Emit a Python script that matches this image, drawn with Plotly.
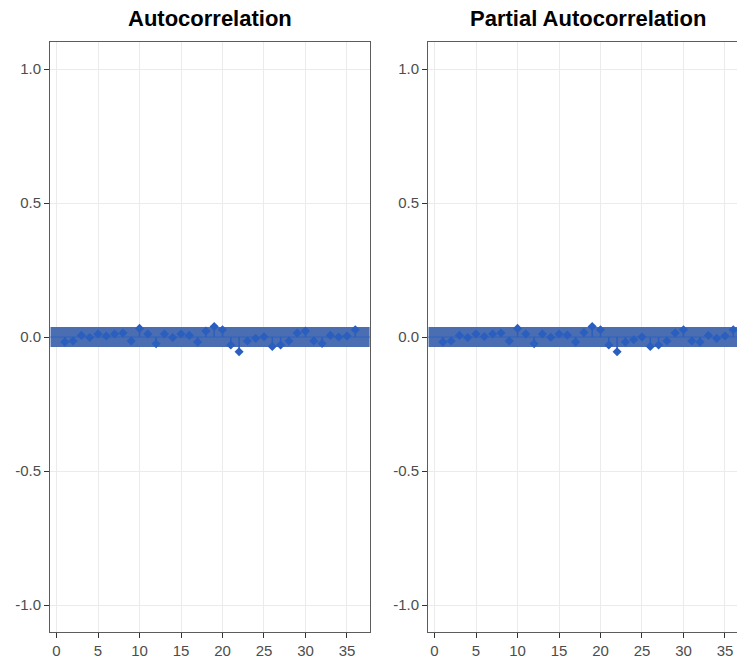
import plotly.graph_objects as go

lags = list(range(1, 37))
acf_vals = [-0.019, -0.015, 0.006, -0.002, 0.011, 0.004, 0.011, 0.015, -0.015, 0.032,
            0.011, -0.025, 0.011, -0.002, 0.011, 0.006, -0.019, 0.022, 0.039, 0.027,
            -0.030, -0.055, -0.015, -0.005, 0.001, -0.035, -0.030, -0.015, 0.015, 0.022,
            -0.015, -0.024, 0.006, 0.000, 0.004, 0.027]
pacf_vals = [-0.019, -0.015, 0.006, -0.002, 0.011, 0.002, 0.011, 0.015, -0.015, 0.032,
             0.011, -0.025, 0.011, -0.001, 0.011, 0.007, -0.019, 0.017, 0.039, 0.027,
             -0.030, -0.055, -0.019, -0.010, 0.000, -0.035, -0.030, -0.015, 0.015, 0.027,
             -0.015, -0.019, 0.006, -0.005, 0.004, 0.027]
ci = 0.037
titles = ["Autocorrelation", "Partial Autocorrelation"]
x_ticks = [0, 5, 10, 15, 20, 25, 30, 35]
y_ticks = [-1.0, -0.5, 0.0, 0.5, 1.0]
y_tick_text = ["-1.0", "-0.5", "0.0", "0.5", "1.0"]

W, H = 737, 661
XMIN, XMAX = -0.75, 37.75
px_per_unit = 319.5 / (XMAX - XMIN)
left_dom = [50.3 / W, 369.8 / W]
right_left_px = 428.3
right_xmax = XMIN + (W - right_left_px) / px_per_unit
y_dom = [1 - 631.8 / H, 1 - 42.2 / H]

BAND = "#4a6eb1"
LINE = "#2d63c2"
MARK = "#2a5fbf"
AXC = "#5c5c5c"
GRID = "#ebebeb"

fig = go.Figure()

def add_panel(vals, xa, ya, xmax):
    # confidence band
    fig.add_trace(go.Scatter(x=[XMIN, xmax, xmax, XMIN, XMIN], y=[ci, ci, -ci, -ci, ci],
                             fill="toself", fillcolor=BAND, mode="none",
                             xaxis=xa, yaxis=ya, hoverinfo="skip", showlegend=False))
    # zero line
    fig.add_trace(go.Scatter(x=[XMIN, xmax], y=[0, 0], mode="lines",
                             line=dict(color=LINE, width=1.2),
                             xaxis=xa, yaxis=ya, hoverinfo="skip", showlegend=False))
    sx, sy = [], []
    for l, v in zip(lags, vals):
        sx += [l, l, None]
        sy += [0, v, None]
    fig.add_trace(go.Scatter(x=sx, y=sy, mode="lines", line=dict(color=MARK, width=1.5),
                             xaxis=xa, yaxis=ya, hoverinfo="skip", showlegend=False))
    fig.add_trace(go.Scatter(x=lags, y=vals, mode="markers",
                             marker=dict(symbol="diamond", size=7, color=MARK),
                             xaxis=xa, yaxis=ya, showlegend=False))

add_panel(acf_vals, "x", "y", XMAX)
add_panel(pacf_vals, "x2", "y2", right_xmax)

tickfont = dict(family="Liberation Sans, Arial", size=15, color="#4d4d4d")
common_x = dict(tickvals=x_ticks, ticks="outside", ticklen=5, tickcolor="#333333", tickwidth=1,
                showline=True, linecolor=AXC, linewidth=1.4, showgrid=True, gridcolor=GRID,
                gridwidth=1, zeroline=False, tickfont=tickfont, mirror=True)
common_y = dict(tickvals=y_ticks, ticktext=y_tick_text, range=[-1.1, 1.1], ticks="outside",
                ticklen=5, tickcolor="#333333", tickwidth=1, showline=True, linecolor=AXC,
                linewidth=1.4, showgrid=True, gridcolor=GRID, gridwidth=1, zeroline=False,
                tickfont=tickfont, domain=y_dom)

fig.update_layout(
    width=W, height=H, margin=dict(l=0, r=0, t=0, b=0),
    plot_bgcolor="white", paper_bgcolor="white",
    xaxis=dict(domain=left_dom, range=[XMIN, XMAX], anchor="y", **common_x),
    yaxis=dict(anchor="x", mirror=True, **common_y),
    xaxis2=dict(domain=[right_left_px / W, 1.0], range=[XMIN, right_xmax], anchor="y2", **common_x),
    yaxis2=dict(anchor="x2", mirror=False, **common_y),
    annotations=[
        dict(text=titles[0], xref="paper", yref="paper", x=(50.3 + 369.8) / 2 / W, y=1 - 19 / H,
             xanchor="center", yanchor="middle", showarrow=False,
             font=dict(family="Liberation Sans, Arial", size=22, color="black", weight="bold")),
        dict(text=titles[1], xref="paper", yref="paper", x=(right_left_px + 747.8) / 2 / W, y=1 - 19 / H,
             xanchor="center", yanchor="middle", showarrow=False,
             font=dict(family="Liberation Sans, Arial", size=22, color="black", weight="bold")),
    ],
)

fig.write_html("out.html")
